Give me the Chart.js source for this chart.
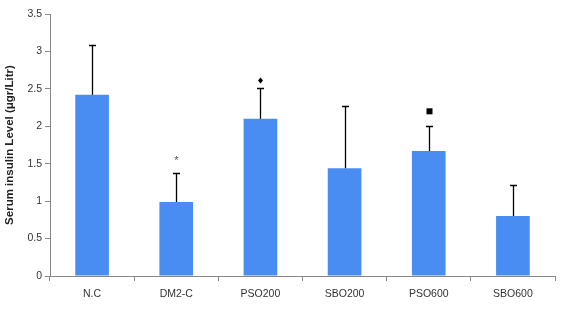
<!DOCTYPE html>
<html><head><meta charset="utf-8">
<script src="https://cdn.jsdelivr.net/npm/chart.js@4/dist/chart.umd.min.js"></script>
<style>html,body{margin:0;padding:0;background:#fff}#wrap{width:576px;height:311px}</style>
</head><body><div id="wrap"><canvas id="c" width="576" height="311"></canvas></div>
<script>
const categories = ['N.C','DM2-C','PSO200','SBO200','PSO600','SBO600'];
const means = [2.42, 0.99, 2.10, 1.44, 1.67, 0.80];
const errors = [0.66, 0.38, 0.41, 0.83, 0.34, 0.42];
const markSymbols = ['', '*', 'diamond', '', 'square', ''];
const markValues = [null, 1.57, 2.61, null, 2.20, null];
const yTicks = [0,0.5,1,1.5,2,2.5,3,3.5];

const errPlugin = {
  id:'err',
  afterDatasetsDraw(chart){
    const ctx = chart.ctx, y = chart.scales.y;
    const meta = chart.getDatasetMeta(0);
    ctx.save();
    meta.data.forEach((bar,i)=>{
      const x = Math.round(bar.x)+0.5;
      const y0 = y.getPixelForValue(means[i]);
      const y1 = Math.round(y.getPixelForValue(means[i]+errors[i]))+0.5;
      ctx.strokeStyle='#000'; ctx.lineWidth=1.3;
      ctx.beginPath(); ctx.moveTo(x,y0); ctx.lineTo(x,y1);
      ctx.moveTo(x-3.5,y1); ctx.lineTo(x+3.5,y1); ctx.stroke();
      const s = markSymbols[i];
      if (markValues[i]!==null){
        const my = y.getPixelForValue(markValues[i]);
        ctx.fillStyle='#000';
        if (s==='diamond'){
          ctx.beginPath(); ctx.moveTo(x,my-3); ctx.lineTo(x+2.5,my); ctx.lineTo(x,my+3); ctx.lineTo(x-2.5,my); ctx.closePath(); ctx.fill();
        } else if (s==='square'){
          ctx.fillRect(x-3,my-3,6,6);
        } else {
          ctx.fillStyle='#555'; ctx.font='11px "Liberation Sans"'; ctx.textAlign='center'; ctx.textBaseline='middle';
          ctx.fillText(s,x,my+2);
        }
      }
    });
    ctx.restore();
  }
};

new Chart(document.getElementById('c'),{
  type:'bar',
  data:{labels:categories,datasets:[{data:means,backgroundColor:'#4A8DF2',borderWidth:0,categoryPercentage:1,barPercentage:0.4}]},
  options:{
    responsive:false,animation:false,devicePixelRatio:1,
    layout:{padding:{left:0,right:21,top:14,bottom:0}},
    plugins:{legend:{display:false},tooltip:{enabled:false}},
    scales:{
      x:{
        offset:true,
        grid:{offset:true,drawOnChartArea:false,drawTicks:true,tickLength:5,color:'#888'},
        border:{color:'#888',width:1},
        ticks:{font:{family:'Liberation Sans',size:10.5},color:'#333',padding:7},
        afterFit(s){s.height=35;}
      },
      y:{
        min:0,max:3.5,
        afterBuildTicks(s){s.ticks=yTicks.map(v=>({value:v}));},
        grid:{drawOnChartArea:false,drawTicks:true,tickLength:5,color:'#888'},
        border:{color:'#888',width:1},
        ticks:{font:{family:'Liberation Sans',size:10.5},color:'#333',padding:3,callback:(v)=>String(v)},
        title:{display:true,text:'Serum insulin Level (μgr/Litr)',font:{family:'Liberation Sans',size:11.5,weight:'bold'},color:'#222',padding:{top:3,bottom:0}},
        afterFit(s){s.width=50;}
      }
    }
  },
  plugins:[errPlugin]
});
</script></body></html>
